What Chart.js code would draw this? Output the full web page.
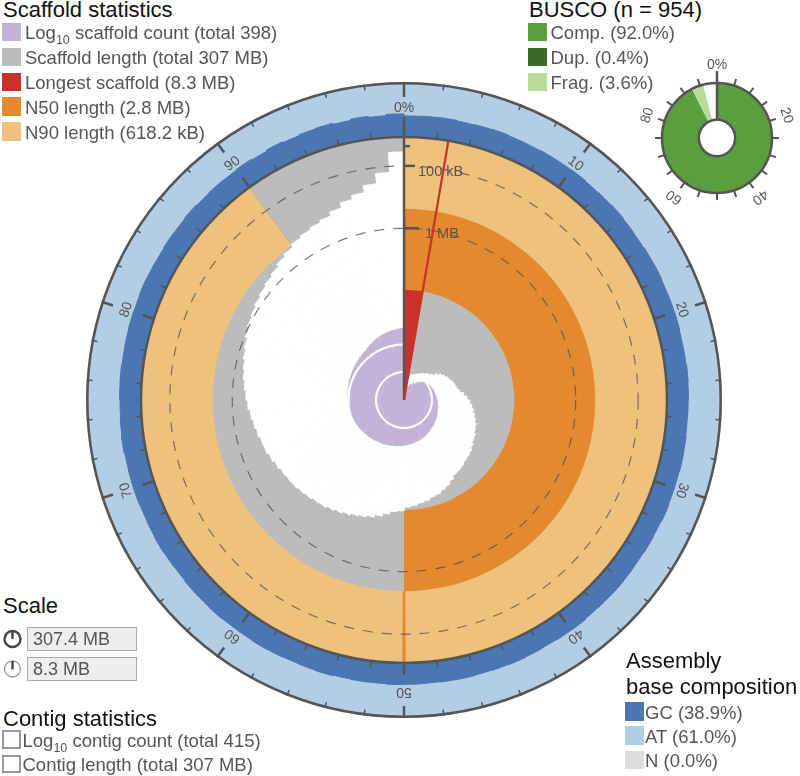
<!DOCTYPE html>
<html>
<head>
<meta charset="utf-8">
<title>Snail plot</title>
<script src="https://cdn.jsdelivr.net/npm/chart.js@4.4.1/dist/chart.umd.min.js"></script>
<style>
  html, body { margin: 0; padding: 0; background: #fff; }
  body { width: 800px; height: 776px; position: relative; overflow: hidden;
         font-family: "Liberation Sans", Arial, sans-serif; color: #555; }
  canvas { position: absolute; }
  #snail { left: 86px; top: 82px; }
  #busco { left: 634px; top: 55px; }
  .title { position: absolute; font-size: 22px; line-height: 26px; color: #111; white-space: nowrap; }
  .item { position: absolute; font-size: 18.5px; line-height: 25px; height: 25px; white-space: nowrap; }
  .item .sw { position: absolute; top: 2.6px; width: 19px; height: 18.5px; box-sizing: border-box; }
  .item .tx { position: absolute; top: 0; }
  .sub { font-size: 12.5px; position: relative; top: 5px; }
  .box { position: absolute; left: 27px; width: 110px; height: 24px; box-sizing: border-box;
         border: 1px solid #a8a8a8; background: #eeeeee; font-size: 18px; line-height: 22px;
         padding-left: 5px; color: #555; }
  .icon { position: absolute; left: 2px; }
</style>
</head>
<body>
<canvas id="snail" width="636" height="636"></canvas>
<canvas id="busco" width="166" height="166"></canvas>
<script>
// values; one bin = 1 % of the assembly
const scaffoldLengthMB = [
  8.3, 8.3, 8.3, 6.85, 6.74, 6.68, 6.63, 6.57, 6.51, 6.40,
  6.35, 6.24, 6.18, 6.07, 5.86, 5.70, 5.60, 5.50, 5.44, 5.34,
  5.29, 5.24, 5.14, 4.95, 4.80, 4.66, 4.56, 4.47, 4.38, 4.29,
  4.20, 4.15, 4.06, 4.02, 3.93, 3.84, 3.80, 3.76, 3.68, 3.63,
  3.59, 3.47, 3.35, 3.27, 3.19, 3.15, 3.07, 3.03, 2.96, 2.92,
  2.78, 2.74, 2.63, 2.52, 2.42, 2.35, 2.29, 2.22, 2.15, 2.09,
  2.03, 2.00, 1.94, 1.90, 1.85, 1.82, 1.79, 1.73, 1.67, 1.61,
  1.59, 1.53, 1.48, 1.43, 1.37, 1.32, 1.27, 1.22, 1.18, 1.13,
  1.08, 1.02, 0.97, 0.93, 0.89, 0.85, 0.81, 0.77, 0.71, 0.66,
  0.605, 0.571, 0.539, 0.507, 0.447, 0.376, 0.324, 0.243, 0.147, 0.027
];
const scaffoldCount = [
  1, 1, 2, 2, 3, 3, 4, 4, 5, 5,
  6, 7, 8, 9, 10, 10, 11, 12, 12, 13,
  13, 14, 14, 15, 15, 16, 16, 17, 18, 18,
  19, 20, 21, 22, 23, 24, 25, 26, 27, 29,
  30, 32, 33, 35, 36, 37, 39, 40, 42, 43,
  45, 46, 48, 49, 51, 53, 55, 57, 59, 61,
  64, 66, 69, 71, 74, 77, 80, 83, 86, 89,
  92, 95, 98, 101, 104, 107, 110, 114, 118, 122,
  126, 131, 136, 141, 147, 153, 160, 168, 177, 187,
  205, 225, 250, 275, 300, 320, 340, 360, 380, 398
];
const gcPercent = [
  38.4, 38.9, 39.3, 38.1, 38.7, 39.6, 38.5, 38.2, 39.0, 38.8,
  39.4, 38.3, 38.9, 39.7, 38.6, 37.9, 38.9, 39.2, 38.4, 38.8,
  39.1, 38.2, 38.6, 39.5, 38.9, 38.4, 38.0, 38.9, 39.3, 38.6,
  38.8, 39.6, 38.3, 38.9, 38.1, 38.7, 39.2, 38.8, 38.4, 39.5,
  38.9, 38.0, 38.6, 39.3, 38.8, 38.3, 39.1, 38.9, 38.2, 38.8,
  39.3, 38.6, 38.9, 38.3, 39.5, 38.8, 38.1, 38.9, 39.2, 38.6,
  38.4, 39.3, 38.8, 38.9, 37.9, 38.6, 39.5, 38.8, 38.3, 39.1,
  38.9, 38.5, 39.7, 38.8, 38.1, 38.9, 39.3, 38.4, 38.8, 39.2,
  38.6, 39.5, 38.9, 38.3, 39.1, 38.7, 39.9, 38.5, 39.4, 38.9,
  40.1, 38.4, 40.6, 38.8, 40.3, 41.2, 39.2, 41.5, 39.6, 42.0
];
const totalMB = 307.4;
const longestMB = 8.3;
const n50MB = 2.8;
const n90MB = 0.6182;
const scaffoldTotal = 398;
const contigTotal = 415;
const contigMB = 307;
const lengthTicksMB = [0.01, 0.1, 1];
const lengthTickLabels = ['', '100 kB', '1 MB'];
const ringTickLabels = ['0%', '10', '20', '30', '40', '50', '60', '70', '80', '90'];
const buscoN = 954;
const buscoLabels = ['Comp.', 'Dup.', 'Frag.', 'Missing'];
const buscoValues = [92.0, 0.4, 3.6, 4.0];
const buscoTickLabels = ['0%', '20', '40', '60', '80'];
const baseLabels = ['GC', 'AT', 'N'];
const baseValues = [38.9, 61.0, 0.0];

const COLORS = {
  count: '#c3b4d7', length: '#bcbcbc', longest: '#c9322a', n50: '#e5892f', n90: '#eec27d',
  gc: '#4a77b4', at: '#b3cde4', n: '#dcdcdc',
  comp: '#5a9f3d', dup: '#3a6b28', frag: '#b8dc98', missing: '#ffffff',
  axis: '#555555', text: '#555555'
};
const FONT = '"Liberation Sans", Arial, sans-serif';

// geometry of the snail
const HALF = 318;     // outer edge of the composition ring (canvas half size)
const PLOT_R = 263;   // outer edge of the length plot
const COUNT_R = 71.5; // radius reached by the count spiral
const BIN_DEG = 360 / scaffoldLengthMB.length;
const lenMax = Math.sqrt(longestMB);
const longestPct = longestMB / totalMB * 100;
const logCount = scaffoldCount.map(c => Math.log10(c));
const LINE = 0.04;
const clear = 'rgba(0,0,0,0)';

function perBin(axis, data, color, order) {
  return { rAxisID: axis, data, angle: BIN_DEG, backgroundColor: color,
           borderColor: color, borderWidth: 1, order };
}
function sectors(axis, data, spans, colors, order) {
  return { rAxisID: axis, data, angle: spans.map(s => s * 3.6),
           backgroundColor: colors, borderWidth: 0, order };
}

const datasets = [
  sectors('rComp', [100, 100], [50, 50], [COLORS.at, COLORS.at], 30),
  perBin('rComp', gcPercent, COLORS.gc, 29),
  sectors('r', [0, 0], [90, 10], [COLORS.n90, COLORS.length], 28),
  sectors('r', [0, 0, 0], [49.9, 0.2, 49.9], [clear, COLORS.n50, clear], 27),
  sectors('r', [n90MB, n90MB, n90MB].map(Math.sqrt), [50, 40, 10], [COLORS.n50, COLORS.length, clear], 26),
  sectors('r', [n50MB, n50MB, n50MB].map(Math.sqrt), [longestPct, 50 - longestPct, 50], [COLORS.longest, COLORS.length, clear], 25),
  perBin('r', scaffoldLengthMB.map(Math.sqrt), '#ffffff', 24),
  perBin('rCount', logCount, COLORS.count, 23),
  perBin('rCount', logCount.map(v => Math.min(v, 2 + LINE)), '#ffffff', 22),
  perBin('rCount', logCount.map(v => Math.min(v, 2 - LINE)), COLORS.count, 21),
  perBin('rCount', logCount.map(v => Math.min(v, 1 + LINE)), '#ffffff', 20),
  perBin('rCount', logCount.map(v => Math.min(v, 1 - LINE)), COLORS.count, 19)
];

const lengthTickSize = [6, 11, 15];

const snailDecor = {
  id: 'snailDecor',
  afterDraw(chart) {
    const s = chart.scales.r;
    const ctx = chart.ctx;
    const cx = s.xCenter, cy = s.yCenter;
    const rIn = s.getDistanceFromCenterForValue(0);
    const rOut = s.drawingArea;
    const ang = p => p / 100 * Math.PI * 2 - Math.PI / 2;
    const radial = (p, r0, r1, color, w) => {
      const a = ang(p);
      ctx.beginPath();
      ctx.moveTo(cx + r0 * Math.cos(a), cy + r0 * Math.sin(a));
      ctx.lineTo(cx + r1 * Math.cos(a), cy + r1 * Math.sin(a));
      ctx.strokeStyle = color;
      ctx.lineWidth = w;
      ctx.stroke();
    };
    ctx.save();
    ctx.lineCap = 'butt';

    // frame circles
    ctx.strokeStyle = COLORS.axis;
    ctx.lineWidth = 2.5;
    ctx.beginPath(); ctx.arc(cx, cy, rIn, 0, Math.PI * 2); ctx.stroke();
    ctx.beginPath(); ctx.arc(cx, cy, rOut - 1.3, 0, Math.PI * 2); ctx.stroke();

    // percentage ticks on both sides of the ring
    for (let p = 0; p < 100; p += 2) {
      const major = p % 10 === 0;
      const len = major ? 12 : 6;
      const w = major ? 2.5 : 1.5;
      radial(p, rIn, rIn + (p === 0 ? 20 : len), COLORS.axis, w);
      radial(p, rOut - (p === 0 ? 15 : len), rOut, COLORS.axis, w);
    }
    ctx.fillStyle = COLORS.text;
    ctx.font = '14px ' + FONT;
    ctx.textAlign = 'center';
    ctx.textBaseline = 'middle';
    ringTickLabels.forEach((lab, i) => {
      const a = ang(i * 10), r = rIn + 29;
      ctx.save();
      ctx.translate(cx + r * Math.cos(a), cy + r * Math.sin(a));
      ctx.rotate(a + Math.PI / 2);
      ctx.fillText(lab, 0, 0);
      ctx.restore();
    });

    // length axis along 0 %
    radial(0, 0, rIn, COLORS.axis, 2.5);
    ctx.textAlign = 'left';
    ctx.textBaseline = 'alphabetic';
    ctx.font = '14.5px ' + FONT;
    s.ticks.forEach((t, i) => {
      const r = s.getDistanceFromCenterForValue(t.value);
      ctx.beginPath();
      ctx.moveTo(cx, cy - r);
      ctx.lineTo(cx + lengthTickSize[i], cy - r);
      ctx.strokeStyle = COLORS.axis;
      ctx.lineWidth = 2.5;
      ctx.stroke();
      if (lengthTickLabels[i]) ctx.fillText(lengthTickLabels[i], cx + 14 + (i === 2 ? 7 : 0), cy - r + 10);
    });

    // longest scaffold edge
    radial(longestPct, 0, rIn, COLORS.longest, 2.2);
    ctx.restore();
  }
};

new Chart(document.getElementById('snail'), {
  type: 'polarArea',
  data: { labels: scaffoldLengthMB.map((_, i) => i + '%'), datasets },
  options: {
    responsive: false,
    animation: false,
    events: [],
    layout: { padding: 0 },
    plugins: { legend: { display: false }, tooltip: { enabled: false } },
    scales: {
      r: {
        type: 'radialLinear', axis: 'r', reverse: true, beginAtZero: false, startAngle: 0,
        min: lenMax * (1 - HALF / PLOT_R), max: lenMax,
        angleLines: { display: false }, pointLabels: { display: false }, ticks: { display: false },
        afterBuildTicks: s => { s.ticks = lengthTicksMB.map(v => ({ value: Math.sqrt(v) })); },
        grid: { circular: true, z: 1, lineWidth: 1.2,
                color: c => lengthTickLabels[c.index] ? 'rgba(80,80,80,0.75)' : clear },
        border: { dash: [10, 9] }
      },
      rComp: {
        type: 'radialLinear', axis: 'r', display: false, beginAtZero: false, startAngle: 0,
        min: -100 * PLOT_R / (HALF - PLOT_R), max: 100
      },
      rCount: {
        type: 'radialLinear', axis: 'r', display: false, startAngle: 0,
        min: 0, max: Math.log10(scaffoldTotal) * HALF / COUNT_R
      }
    }
  },
  plugins: [snailDecor]
});

// BUSCO ring
const buscoDecor = {
  id: 'buscoDecor',
  afterDraw(chart) {
    const arc = chart.getDatasetMeta(0).data[0];
    const { x, y, innerRadius, outerRadius } = arc.getProps(['x', 'y', 'innerRadius', 'outerRadius'], true);
    const ctx = chart.ctx;
    const ang = p => p / 100 * Math.PI * 2 - Math.PI / 2;
    ctx.save();
    ctx.strokeStyle = COLORS.axis;
    ctx.lineWidth = 2.5;
    ctx.beginPath(); ctx.arc(x, y, outerRadius, 0, Math.PI * 2); ctx.stroke();
    ctx.beginPath(); ctx.arc(x, y, innerRadius, 0, Math.PI * 2); ctx.stroke();
    for (let p = 0; p < 100; p += 5) {
      const a = ang(p);
      const r0 = p === 0 ? innerRadius : outerRadius;
      const r1 = outerRadius + (p === 0 ? 12 : 7);
      ctx.lineWidth = p === 0 ? 2.5 : 2;
      ctx.beginPath();
      ctx.moveTo(x + r0 * Math.cos(a), y + r0 * Math.sin(a));
      ctx.lineTo(x + r1 * Math.cos(a), y + r1 * Math.sin(a));
      ctx.stroke();
    }
    ctx.fillStyle = COLORS.text;
    ctx.font = '14px ' + FONT;
    ctx.textAlign = 'center';
    ctx.textBaseline = 'middle';
    buscoTickLabels.forEach((lab, i) => {
      const a = ang(i * 20), r = outerRadius + 18;
      ctx.save();
      ctx.translate(x + r * Math.cos(a), y + r * Math.sin(a));
      ctx.rotate(a + Math.PI / 2);
      ctx.fillText(lab, 0, 0);
      ctx.restore();
    });
    ctx.restore();
  }
};

new Chart(document.getElementById('busco'), {
  type: 'doughnut',
  data: {
    labels: buscoLabels,
    datasets: [{ data: buscoValues, borderWidth: 0,
                 backgroundColor: [COLORS.comp, COLORS.dup, COLORS.frag, COLORS.missing] }]
  },
  options: {
    responsive: false, animation: false, events: [], cutout: '33%',
    layout: { padding: 28 },
    plugins: { legend: { display: false }, tooltip: { enabled: false } }
  },
  plugins: [buscoDecor]
});

// legends
function addDiv(cls, left, top, html) {
  const d = document.createElement('div');
  d.className = cls;
  d.style.left = left + 'px';
  d.style.top = top + 'px';
  d.innerHTML = html;
  document.body.appendChild(d);
  return d;
}
function addItem(left, top, swatch, html, textLeft) {
  addDiv('item', left, top,
    '<div class="sw" style="left:0;' + swatch + '"></div><div class="tx" style="left:' + textLeft + 'px">' + html + '</div>');
}
const log10 = 'Log<span class="sub">10</span>';

addDiv('title', 3, -3.5, 'Scaffold statistics');
[
  [COLORS.count, log10 + ' scaffold count (total ' + scaffoldTotal + ')'],
  [COLORS.length, 'Scaffold length (total ' + Math.round(totalMB) + ' MB)'],
  [COLORS.longest, 'Longest scaffold (' + longestMB + ' MB)'],
  [COLORS.n50, 'N50 length (' + n50MB + ' MB)'],
  [COLORS.n90, 'N90 length (' + (n90MB * 1000).toFixed(1) + ' kB)']
].forEach((r, i) => addItem(2, 20.4 + 24.8 * i, 'background:' + r[0], r[1], 23));

addDiv('title', 529, -3.5, 'BUSCO (n = ' + buscoN + ')');
[COLORS.comp, COLORS.dup, COLORS.frag].forEach((c, i) =>
  addItem(528, 20.4 + 24.8 * i, 'background:' + c, buscoLabels[i] + ' (' + buscoValues[i].toFixed(1) + '%)', 22.5));

addDiv('title', 3, 593, 'Scale');
addDiv('box', 27, 626.7, totalMB + ' MB');
addDiv('box', 27, 656.7, longestMB + ' MB');
addDiv('icon', 2, 628,
  '<svg width="22" height="22"><circle cx="10.5" cy="11" r="8" fill="none" stroke="#444" stroke-width="2.4"/>' +
  '<line x1="10.5" y1="11" x2="10.5" y2="3" stroke="#444" stroke-width="2.4"/></svg>');
addDiv('icon', 2, 658,
  '<svg width="22" height="22"><circle cx="10.5" cy="11" r="8" fill="none" stroke="#9a9a9a" stroke-width="1.3"/>' +
  '<line x1="10.5" y1="11.5" x2="10.5" y2="3" stroke="#444" stroke-width="2.4"/></svg>');

addDiv('title', 3, 706, 'Contig statistics');
addItem(2, 727.8, 'border:2px solid #a092ae', log10 + ' contig count (total ' + contigTotal + ')', 20.5);
addItem(2, 752.1, 'border:2px solid #9a9a9a', 'Contig length (total ' + contigMB + ' MB)', 20.5);

addDiv('title', 626, 647.7, 'Assembly<br>base composition');
[COLORS.gc, COLORS.at, COLORS.n].forEach((c, i) =>
  addItem(625, 699.6 + 24.2 * i, 'background:' + c, baseLabels[i] + ' (' + baseValues[i].toFixed(1) + '%)', 20));
</script>
</body>
</html>
